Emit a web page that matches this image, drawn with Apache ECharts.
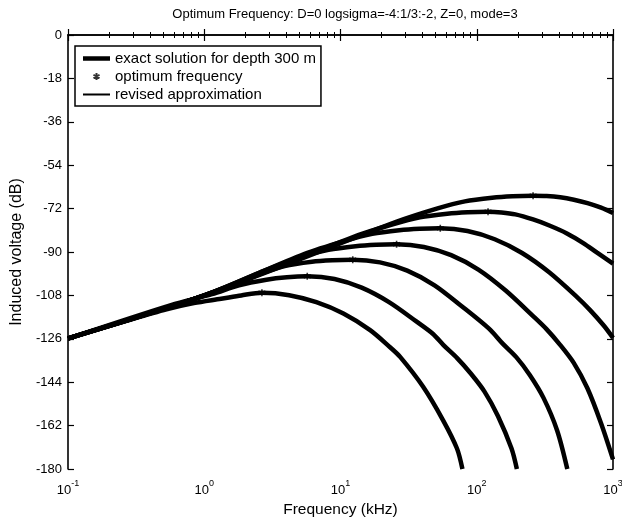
<!DOCTYPE html>
<html>
<head>
<meta charset="utf-8">
<script src="https://cdn.jsdelivr.net/npm/echarts@6/dist/echarts.min.js"></script>
<style>
  html, body { margin: 0; padding: 0; background: #fff; }
  #chart { width: 622px; height: 519px; }
</style>
</head>
<body>
<div id="chart"></div>
<script>
// Induced voltage (dB) against frequency (kHz), one curve per logsigma = -4 : 1/3 : -2
const freqS1 = [0.1, 1, 25.9, 51.6, 81.8, 129.7, 183, 259, 326, 410, 516, 650, 818, 1000];
const voltS1 = [-125.8, -108.0, -77.4, -71.9, -69.0, -67.5, -66.9, -66.7, -66.8, -67.3, -68.3, -69.7, -71.6, -73.8];

const freqS2 = [0.1, 1, 12.1, 24.2, 38.3, 60.7, 85.7, 121, 152, 192, 259, 341, 459, 605, 764, 1000];
const voltS2 = [-125.8, -108.0, -84.0, -78.5, -75.6, -74.1, -73.5, -73.3, -73.6, -74.4, -76.5, -79.0, -82.3, -86.3, -90.3, -94.8];

const freqS3 = [0.1, 1, 5.4, 10.8, 17.1, 27.0, 38.2, 54, 85.5, 135.5, 215, 340, 540, 679, 855, 1000];
const voltS3 = [-125.8, -108.0, -90.9, -85.4, -82.5, -81.0, -80.4, -80.2, -81.3, -84.7, -90.4, -98.4, -108.5, -114.1, -120.5, -125.6];

const freqS4 = [0.1, 1, 2.58, 5.15, 8.17, 12.9, 18.3, 25.8, 40.9, 64.9, 102.8, 163, 258, 325, 409, 515, 649, 817, 1000];
const voltS4 = [-125.8, -108.0, -98.4, -92.0, -89.1, -87.6, -87.0, -86.8, -87.9, -91.3, -97.3, -106.0, -116.5, -122.0, -128.5, -136.0, -146.5, -161.0, -176.0];

const freqS5 = [0.1, 1.23, 2.45, 3.89, 6.17, 8.71, 12.3, 19.5, 30.9, 49.0, 77.6, 123, 155, 195, 245, 309, 389, 462];
const voltS5 = [-125.8, -106.4, -99.5, -95.8, -94.0, -93.4, -93.2, -94.3, -97.7, -103.8, -112.5, -121.8, -128.0, -133.6, -141.0, -150.5, -164.0, -180];

const freqS6 = [0.1, 0.57, 1.14, 1.80, 2.86, 4.04, 5.7, 9.04, 14.3, 22.7, 36.0, 47.8, 57.0, 71.8, 90.4, 114, 143, 180, 197];
const voltS6 = [-125.9, -112.0, -107.5, -103.8, -101.5, -100.5, -100.1, -101.2, -104.8, -110.8, -118.8, -124.0, -128.6, -134.0, -140.4, -147.9, -158.0, -171.5, -180];

const freqS7 = [0.1, 0.265, 0.528, 0.838, 1.33, 1.87, 2.65, 4.2, 6.65, 10.5, 16.5, 23.1, 27.4, 40.3, 56.5, 71.6, 78.5];
const voltS7 = [-125.9, -118.7, -113.8, -111.2, -109.4, -108.0, -106.9, -107.9, -110.8, -115.5, -122.4, -129.5, -133.5, -145.8, -159.7, -171.5, -180];

// optimum frequency of each curve
const peakFreq = [259, 121, 54, 25.8, 12.3, 5.7, 2.65];
const peakVolt = [-66.7, -73.3, -80.2, -86.8, -93.2, -100.1, -106.9];

// axis ticks
const xTickExponents = [-1, 0, 1, 2, 3];
const xMinorTicks = [0.2, 0.3, 0.4, 0.5, 0.6, 0.7, 0.8, 0.9,
                     2, 3, 4, 5, 6, 7, 8, 9,
                     20, 30, 40, 50, 60, 70, 80, 90,
                     200, 300, 400, 500, 600, 700, 800, 900];
const yMin = -180, yMax = 0, yStep = 18;

const curveFreqs = [freqS1, freqS2, freqS3, freqS4, freqS5, freqS6, freqS7];
const curveVolts = [voltS1, voltS2, voltS3, voltS4, voltS5, voltS6, voltS7];

const EXACT = 'exact solution for depth 300 m';
const OPTIMUM = 'optimum frequency';
const REVISED = 'revised approximation';
const FONT = 'Liberation Sans, Arial, Helvetica, sans-serif';
const ASTERISK = 'path://M0,-5L0,5M-4.33,-2.5L4.33,2.5M-4.33,2.5L4.33,-2.5';
const THICK_BAR = 'path://M0,0L27,0L27,4.5L0,4.5Z';
const THIN_BAR = 'path://M0,0L27,0L27,2L0,2Z';

const gridBox = { left: 68, right: 9, top: 35, bottom: 50, containLabel: false, outerBoundsMode: 'none' };

function pairs(xs, ys) { return xs.map((x, i) => [x, ys[i]]); }

const series = [];
curveFreqs.forEach((fs, i) => {
  series.push({
    name: EXACT, type: 'line', xAxisIndex: 0, yAxisIndex: 0,
    data: pairs(fs, curveVolts[i]),
    symbol: 'none', showSymbol: false, smooth: 0.3,
    lineStyle: { color: '#000', width: 4.5 }, itemStyle: { color: '#000' },
    z: 2
  });
});
curveFreqs.forEach((fs, i) => {
  series.push({
    name: REVISED, type: 'line', xAxisIndex: 0, yAxisIndex: 0,
    data: pairs(fs, curveVolts[i]),
    symbol: 'none', showSymbol: false, smooth: 0.3,
    lineStyle: { color: '#000', width: 1.5 }, itemStyle: { color: '#000' },
    z: 3
  });
});
series.push({
  name: OPTIMUM, type: 'scatter', xAxisIndex: 0, yAxisIndex: 0,
  data: pairs(peakFreq, peakVolt),
  symbol: ASTERISK, symbolSize: 7,
  itemStyle: { color: '#000', borderColor: '#000', borderWidth: 1.6 },
  z: 4
});

const tickLabel = {
  color: '#000', fontFamily: FONT,
  rich: {
    b: { fontSize: 13, fontFamily: FONT, color: '#000', lineHeight: 18, verticalAlign: 'bottom' },
    s: { fontSize: 9, fontFamily: FONT, color: '#000', lineHeight: 18, verticalAlign: 'top' }
  }
};

const option = {
  animation: false,
  backgroundColor: '#fff',
  title: {
    text: 'Optimum Frequency: D=0 logsigma=-4:1/3:-2, Z=0, mode=3',
    left: 340, top: 3, textAlign: 'center',
    textStyle: { fontSize: 13, fontWeight: 'normal', color: '#000', fontFamily: FONT }
  },
  legend: {
    orient: 'vertical', left: 75, top: 46,
    backgroundColor: '#fff', borderColor: '#000', borderWidth: 1.5, borderRadius: 0,
    padding: [5, 5, 4, 8], itemGap: 3, itemWidth: 27, itemHeight: 7, itemTextGap: 8,
    textStyle: { fontSize: 15, color: '#000', fontFamily: FONT },
    data: [
      { name: EXACT, icon: THICK_BAR, itemStyle: { color: '#000' } },
      { name: OPTIMUM, itemStyle: { color: '#000', borderColor: '#000', borderWidth: 2 } },
      { name: REVISED, icon: THIN_BAR, itemStyle: { color: '#000' } }
    ]
  },
  grid: [Object.assign({}, gridBox), Object.assign({}, gridBox)],
  xAxis: [
    {
      type: 'log', logBase: 10, min: 0.1, max: 1000, gridIndex: 0, position: 'bottom',
      name: 'Frequency (kHz)', nameLocation: 'middle', nameGap: 31,
      nameTextStyle: { fontSize: 15.5, color: '#000', fontFamily: FONT },
      axisLine: { lineStyle: { color: '#000', width: 1.6 } },
      axisTick: { inside: true, length: 6, lineStyle: { color: '#000', width: 1.2 } },
      axisLabel: Object.assign({
        margin: 10,
        formatter: v => {
          const e = Math.round(Math.log10(v));
          return xTickExponents.indexOf(e) >= 0 ? '{b|10}{s|' + e + '}' : '';
        }
      }, tickLabel),
      splitLine: { show: false }
    },
    {
      type: 'log', logBase: 10, min: 0.1, max: 1000, gridIndex: 0, position: 'top',
      axisLine: { lineStyle: { color: '#000', width: 1.6 } },
      axisTick: { inside: true, length: 6, lineStyle: { color: '#000', width: 1.2 } },
      axisLabel: { show: false }, splitLine: { show: false }
    },
    {
      type: 'log', logBase: 10, min: 0.1, max: 1000, gridIndex: 1, position: 'bottom',
      axisLine: { show: false },
      axisTick: { inside: true, length: 3, customValues: xMinorTicks, lineStyle: { color: '#000', width: 1 } },
      axisLabel: { show: false }, splitLine: { show: false }
    },
    {
      type: 'log', logBase: 10, min: 0.1, max: 1000, gridIndex: 1, position: 'top',
      axisLine: { show: false },
      axisTick: { inside: true, length: 3, customValues: xMinorTicks, lineStyle: { color: '#000', width: 1 } },
      axisLabel: { show: false }, splitLine: { show: false }
    }
  ],
  yAxis: [
    {
      type: 'value', min: yMin, max: yMax, interval: yStep, gridIndex: 0, position: 'left',
      name: 'Induced voltage (dB)', nameLocation: 'middle', nameGap: 43, nameRotate: 90,
      nameTextStyle: { fontSize: 16, color: '#000', fontFamily: FONT },
      axisLine: { lineStyle: { color: '#000', width: 1.6 } },
      axisTick: { inside: true, length: 6, lineStyle: { color: '#000', width: 1.2 } },
      axisLabel: { fontSize: 13, color: '#000', fontFamily: FONT, margin: 6 },
      splitLine: { show: false }
    },
    {
      type: 'value', min: yMin, max: yMax, interval: yStep, gridIndex: 0, position: 'right',
      axisLine: { lineStyle: { color: '#000', width: 1.6 } },
      axisTick: { inside: true, length: 6, lineStyle: { color: '#000', width: 1.2 } },
      axisLabel: { show: false }, splitLine: { show: false }
    },
    {
      type: 'value', min: yMin, max: yMax, gridIndex: 1, show: false
    }
  ],
  series: series
};

const chart = echarts.init(document.getElementById('chart'), null, { renderer: 'canvas' });
chart.setOption(option);
</script>
</body>
</html>
